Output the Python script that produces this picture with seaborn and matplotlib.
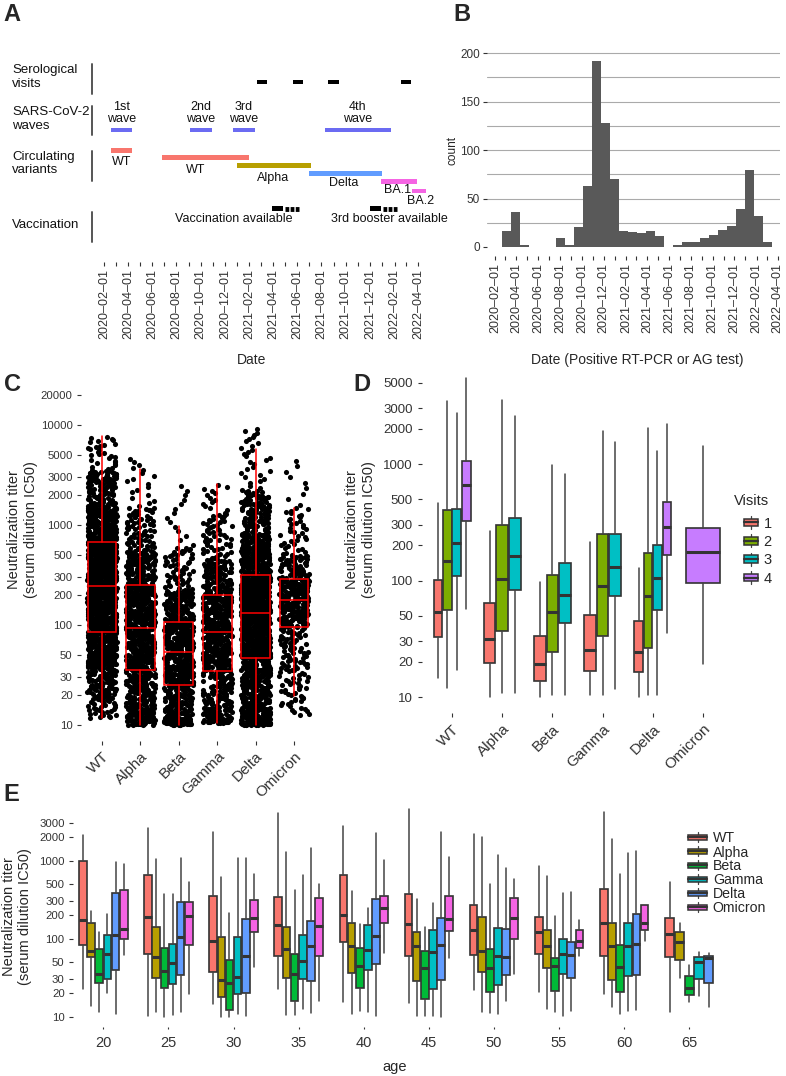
import numpy as np
import pandas as pd
import matplotlib
matplotlib.use("Agg")
import matplotlib.pyplot as plt
import matplotlib.dates as mdates
import seaborn as sns
from matplotlib.patches import Rectangle, Patch
from matplotlib.lines import Line2D
from matplotlib.legend_handler import HandlerBase
from matplotlib.ticker import NullLocator, FixedLocator

# ---------------- DATA ----------------
# Panel A: timeline
visit_starts = ["2021-02-20", "2021-05-21", "2021-08-17", "2022-02-17"]
visit_ends = ["2021-03-17", "2021-06-15", "2021-09-14", "2022-03-14"]

wave_labels = ["1st\nwave", "2nd\nwave", "3rd\nwave", "4th\nwave"]
wave_starts = ["2020-02-18", "2020-09-04", "2020-12-21", "2021-08-10"]
wave_ends = ["2020-04-11", "2020-10-29", "2021-02-14", "2022-01-23"]

period_names = ["WT", "WT", "Alpha", "Delta", "BA.1", "BA.2"]
period_starts = ["2020-02-18", "2020-06-26", "2020-12-31", "2021-06-30", "2021-12-29", "2022-03-17"]
period_ends = ["2020-04-11", "2021-01-30", "2021-07-05", "2021-12-31", "2022-03-29", "2022-04-21"]
period_label_dates = ["2020-03-16", "2020-09-19", "2021-04-02", "2021-09-25", "2022-02-09", "2022-04-07"]
period_colors = ["#F8766D", "#F8766D", "#B79F00", "#619CFF", "#F564E3", "#F564E3"]

vax_labels = ["Vaccination available", "3rd booster available"]
vax_solid_starts = ["2021-03-29", "2021-12-01"]
vax_solid_ends = ["2021-04-26", "2021-12-29"]
vax_dash_ends = ["2021-06-05", "2022-02-07"]
vax_label_dates = ["2020-12-24", "2022-01-18"]

# Panel B: histogram of positive tests (30 bins)
hist_start = "2020-02-20"
hist_binwidth_days = 25.15
case_counts = [16, 36, 2, 0, 0, 0, 9, 2, 21, 63, 192, 128, 70, 17, 15, 14, 17, 11,
               0, 2, 5, 5, 9, 12, 18, 22, 39, 79, 32, 5]

# Panel C: titers per variant (box stats: low, q1, median, q3, high)
variants = ["WT", "Alpha", "Beta", "Gamma", "Delta", "Omicron"]
c_box = [(11.7, 85.7, 245, 681, 7760),
         (10, 35.5, 94, 249, 3600),
         (10, 25, 54, 108, 977),
         (10.5, 34.7, 84.5, 200, 2590),
         (10, 46.4, 133, 316, 5750),
         (19.5, 96, 178, 286, 1470)]
# quantile anchors of the point clouds (probabilities below) and point counts
c_cloud_probs = [0, 0.02, 0.10, 0.25, 0.50, 0.75, 0.90, 0.98, 1.0]
c_cloud_wt = [11.7, 18, 40, 85.7, 245, 681, 1500, 3500, 7760]
c_cloud_alpha = [10, 10.5, 15, 35.5, 94, 249, 550, 1500, 4680]
c_cloud_beta = [10, 10.3, 12.5, 25, 54, 108, 220, 600, 2570]
c_cloud_gamma = [10.5, 11, 15, 34.7, 84.5, 200, 450, 1300, 2590]
c_cloud_delta = [10, 10.5, 16, 46.4, 133, 316, 800, 2200, 9400]
c_cloud_omicron = [12.5, 16, 35, 96, 178, 286, 500, 1500, 4700]
c_counts = [1500, 900, 700, 700, 1500, 450]

# Panel D: per visit (low, q1, median, q3, high) for WT..Omicron
visits = ["1", "2", "3", "4"]
d_visit1 = [(14.7, 33, 54, 101, 461), (10, 19.7, 31.6, 64.7, 267), (10, 13.8, 19.1, 33.6, 97),
            (10.4, 16.7, 25.4, 50.6, 214), (10, 16.3, 24.3, 45, 129), None]
d_visit2 = [(11.9, 56, 148, 403, 3450), (10.8, 37.2, 103.5, 297, 3565), (10.4, 24.4, 53.7, 112, 972),
            (10.4, 33.3, 90.6, 250, 1905), (10.4, 26.5, 73.9, 174, 2037), None]
d_visit3 = [(17.1, 110, 209, 413, 2770), (10.8, 83.2, 161, 346, 2563), (10.4, 43.2, 74.8, 141, 826),
            (11.7, 73, 130, 252, 1545), (10.4, 56, 106, 200, 1301), None]
d_visit4 = [(57, 326, 664, 1052, 5480), None, None, None,
            (35.7, 166, 291, 472, 2218), (19.2, 95, 176, 282, 1416)]

# Panel E: per age group (low, q1, median, q3, high)
ages = [20, 25, 30, 35, 40, 45, 50, 55, 60, 65]
e_wt = [(22.6, 84, 174, 982, 2135), (10.2, 64, 191, 662, 2600), (14.6, 37.4, 93.5, 352, 2353),
        (22.4, 59.4, 149, 345, 4120), (15.6, 90.8, 201, 662, 2786), (14.9, 60, 156, 378, 4580),
        (22, 61.8, 129, 270, 2178), (20.9, 64.3, 121, 190, 855), (19.4, 60.5, 157, 430, 4170),
        (11.6, 58.7, 114, 183, 529)]
e_alpha = [(13.8, 58.2, 69.5, 159, 226), (11.6, 31.3, 58.7, 141, 1042), (10, 18, 29.6, 105, 618),
           (10.5, 31.3, 74.5, 141, 1303), (10.9, 36, 80, 160, 409), (10.3, 28.7, 81.3, 123, 323),
           (11.6, 37, 69.5, 190, 2014), (12.4, 42.1, 80.6, 129, 637), (13.4, 29.8, 80.6, 159, 1897),
           (31.6, 53.3, 90, 121, 157)]
e_beta = [(11.6, 27.3, 35.6, 74.5, 121), (10, 23.1, 38.5, 75.3, 371), (10, 12.2, 27, 52.8, 213),
          (10.6, 15.7, 34.9, 64.3, 421), (11.8, 23.5, 44.7, 76.7, 154), (10.3, 16.7, 42.5, 68.9, 143),
          (11.2, 20.9, 41.7, 73, 507), (11.4, 21.5, 44.3, 57, 197), (10.7, 20.6, 43.8, 83.8, 675),
          (15.3, 19, 23.5, 33, 46)]
e_gamma = [(20, 30.4, 64.3, 111, 207), (10.5, 26.2, 48.8, 86.3, 378), (10.8, 19.4, 32.3, 104, 1092),
           (12.4, 30.7, 52.2, 111, 650), (11.4, 39.7, 71.6, 151, 250), (10.3, 22.6, 68.1, 129, 284),
           (10.7, 25.5, 60.5, 137, 1183), (10.3, 35.6, 63.7, 99, 389), (11.8, 33.3, 80, 160, 1245),
           (18.4, 30.1, 50.7, 58.7, 67)]
e_delta = [(10.9, 40, 112, 389, 953), (11.4, 34.3, 106, 298, 1074), (10.2, 20.3, 60.5, 180, 1092),
           (11, 28.7, 80, 167, 1455), (10.2, 47.8, 107, 326, 2244), (10, 29.6, 83, 183, 2312),
           (15.9, 34.3, 58.2, 134, 798), (11.9, 31, 61.8, 90.8, 397), (12.2, 34, 84.7, 209, 1320),
           (13.2, 26.8, 56.6, 60.5, 65)]
e_omicron = [(61.2, 99, 132, 421, 907), (19.4, 83, 197, 293, 529), (43.4, 122, 184, 316, 681),
             (16, 60, 147, 336, 498), (66.2, 160, 245, 350, 1021), (56.1, 124, 180, 356, 1106),
             (34.9, 99, 186, 330, 582), (60.5, 75.3, 94.3, 129, 174), (94.3, 129, 160, 270, 272),
             None]

visit_colors = ["#F8766D", "#7CAE00", "#00BFC4", "#C77CFF"]
variant_colors = ["#F8766D", "#B79F00", "#00BA38", "#00BFC4", "#619CFF", "#F564E3"]

# ---------------- STYLE / LAYOUT ----------------
W, H = 786, 1076
sns.set_theme(style="white")
plt.rcParams['font.family'] = ['Liberation Sans', 'DejaVu Sans']
plt.rcParams['lines.scale_dashes'] = False
plt.rcParams['axes.unicode_minus'] = False
TXT = '#333333'
EDGE = '#333333'

fig = plt.figure(figsize=(W / 100, H / 100), dpi=100)


def px_axes(l, t, r, b):
    return fig.add_axes([l / W, 1 - b / H, (r - l) / W, (b - t) / H])


def ftext(x, y, s, **kw):
    return fig.text(x / W, 1 - y / H, s, **kw)


def vline_fig(x, y0, y1, **kw):
    fig.add_artist(Line2D([x / W, x / W], [1 - y0 / H, 1 - y1 / H], transform=fig.transFigure, **kw))


def dn(s):
    return float(mdates.date2num(pd.Timestamp(s)))


def clean(ax):
    for s in ax.spines.values():
        s.set_visible(False)
    ax.set_xlabel("")
    ax.set_ylabel("")


def stat(t):
    lo, q1, med, q3, hi = t
    return dict(whislo=lo, q1=q1, med=med, q3=q3, whishi=hi, fliers=[])


months = pd.date_range("2020-02-01", "2022-04-01", freq="MS")
month_nums = mdates.date2num(months)
month_labels = [m.strftime("%Y\u2013%m\u2013%d") if m.month % 2 == 0 else "" for m in months]
d0, d1 = dn("2020-02-01"), dn("2022-04-01")


def date_axis(ax):
    ax.set_xticks(month_nums)
    ax.set_xticklabels(month_labels, rotation=90, ha='center', va='top', fontsize=9, color=TXT)
    ax.tick_params(axis='x', bottom=True, length=3, width=0.8, color=TXT, pad=2)


# ---------------- PANEL A ----------------
ax_a = px_axes(95, 55, 430, 262)
ppd_a = (418 - 104) / (d1 - d0)
ax_a.set_xlim(d0 - (104 - 95) / ppd_a, d1 + (430 - 418) / ppd_a)
ax_a.set_ylim(262, 55)
clean(ax_a)
ax_a.set_yticks([])
date_axis(ax_a)

row_visit, row_wave, row_vax = 82, 130, 208.5
period_rows = [150.3, 157.8, 165.7, 173.5, 181.3, 191]
period_label_rows = [162, 170, 177.5, 183.5, 190, 201.5]
bar_h = 4.8

for s, e in zip(visit_starts, visit_ends):
    ax_a.barh(row_visit, dn(e) - dn(s), left=dn(s), height=bar_h, color='black', linewidth=0)
for lab, s, e in zip(wave_labels, wave_starts, wave_ends):
    ax_a.barh(row_wave, dn(e) - dn(s), left=dn(s), height=bar_h, color='#6B6BF2', linewidth=0)
    ax_a.text((dn(s) + dn(e)) / 2, 113, lab, ha='center', va='center', fontsize=9,
              linespacing=1.1, color='#111111')
for name, s, e, ld, c, yr, yl in zip(period_names, period_starts, period_ends, period_label_dates,
                                     period_colors, period_rows, period_label_rows):
    ax_a.barh(yr, dn(e) - dn(s), left=dn(s), height=bar_h, color=c, linewidth=0)
    ax_a.text(dn(ld), yl, name, ha='center', va='center', fontsize=9, color='#111111')
for lab, s, e, de, ld in zip(vax_labels, vax_solid_starts, vax_solid_ends, vax_dash_ends, vax_label_dates):
    ax_a.barh(row_vax, dn(e) - dn(s), left=dn(s), height=bar_h, color='black', linewidth=0)
    ax_a.plot([dn(e) + 5, dn(de)], [row_vax, row_vax], color='black', lw=3.5,
              dashes=(2.7, 1.0), solid_capstyle='butt', dash_capstyle='butt')
    ax_a.text(dn(ld), 218.5, lab, ha='center', va='center', fontsize=9, color='#111111')

for lab, yc, (y0, y1) in zip(["Serological\nvisits", "SARS-CoV-2\nwaves", "Circulating\nvariants", "Vaccination"],
                             [77, 119, 163.5, 225],
                             [(64, 94), (106, 135), (151, 181), (212, 242)]):
    ftext(12, yc, lab, ha='left', va='center', fontsize=9.5, linespacing=1.12, color='#111111')
    vline_fig(92, y0, y1, color='#555555', lw=1.4)

ftext(252, 360, "Date", ha='center', va='center', fontsize=10)

# ---------------- PANEL B ----------------
ax_b = px_axes(487, 51.5, 780, 256.3)
ppd_b = (777.7 - 495) / (d1 - d0)
edges = [dn(hist_start) + hist_binwidth_days * i for i in range(len(case_counts) + 1)]
centers = [(edges[i] + edges[i + 1]) / 2 for i in range(len(case_counts))]
df_b = pd.DataFrame({"date": centers, "count": case_counts})
sns.histplot(data=df_b, x="date", weights="count", bins=edges, color='#595959', alpha=1,
             linewidth=0, ax=ax_b)
ax_b.set_xlim(d0 - (495 - 487) / ppd_b, d1 + (780 - 777.7) / ppd_b)
ax_b.set_ylim(-9.6, 201.6)
clean(ax_b)
date_axis(ax_b)
ax_b.set_yticks([0, 50, 100, 150, 200])
ax_b.set_yticklabels(["0", "50", "100", "150", "200"], fontsize=8.5, color=TXT)
ax_b.yaxis.set_minor_locator(FixedLocator([25, 75, 125, 175]))
ax_b.tick_params(axis='y', which='major', left=True, length=3, width=0.8, color=TXT, pad=2)
ax_b.tick_params(axis='y', which='minor', left=False)
ax_b.set_axisbelow(True)
ax_b.grid(True, which='both', axis='y', color='#AAAAAA', lw=0.8)
ax_b.grid(False, axis='x')
ax_b.get_ygridlines()[0].set_visible(False)
ftext(452, 150, "count", rotation=90, ha='center', va='center', fontsize=8.5)
ftext(637, 360, "Date (Positive RT-PCR or AG test)", ha='center', va='center', fontsize=10)

# ---------------- PANEL C ----------------
ax_c = px_axes(81, 378, 315, 741)
clouds = [c_cloud_wt, c_cloud_alpha, c_cloud_beta, c_cloud_gamma, c_cloud_delta, c_cloud_omicron]
vals, labs = [], []
for v, cl, n in zip(variants, clouds, c_counts):
    p = (np.arange(n) + 0.5) / n
    vals.append(10 ** np.interp(p, c_cloud_probs, np.log10(cl)))
    labs += [v] * n
df_c = pd.DataFrame({"variant": labs, "titer": np.concatenate(vals)})
np.random.seed(7)
sns.stripplot(data=df_c, x="variant", y="titer", order=variants, jitter=0.38, size=3.7,
              color='black', linewidth=0, ax=ax_c, zorder=1)
ax_c.set_yscale('log')
ax_c.bxp([stat(t) for t in c_box], positions=range(len(variants)), widths=0.75,
         showfliers=False, showcaps=False, patch_artist=True, manage_ticks=False, zorder=3,
         boxprops=dict(facecolor='none', edgecolor='#FF0000', lw=1.1),
         medianprops=dict(color='#FF0000', lw=1.1),
         whiskerprops=dict(color='#FF0000', lw=1.1))
ax_c.set_xlim(-0.547, 5.547)
ax_c.set_ylim(10 ** 0.84, 10 ** 4.47)
clean(ax_c)
c_ticks = [10, 20, 30, 50, 100, 200, 300, 500, 1000, 2000, 3000, 5000, 10000, 20000]
ax_c.yaxis.set_major_locator(FixedLocator(c_ticks))
ax_c.yaxis.set_minor_locator(NullLocator())
ax_c.set_yticklabels([str(t) for t in c_ticks], fontsize=8.2, color=TXT)
ax_c.set_xticks(range(len(variants)))
ax_c.set_xticklabels(variants, rotation=45, ha='right', va='top', rotation_mode='anchor',
                     fontsize=11, color=TXT)
ax_c.tick_params(axis='both', bottom=True, left=True, length=3, width=0.8, color=TXT, pad=3)
ftext(22.5, 530, "Neutralization titer\n(serum dilution IC50)", rotation=90, ha='center',
      va='center', fontsize=10.5, linespacing=1.25, multialignment='center')

# ---------------- PANEL D ----------------
ax_d = px_axes(422, 362, 733, 713)
ax_d.set_yscale('log')
d_all = [d_visit1, d_visit2, d_visit3, d_visit4]
for i, v in enumerate(variants):
    present = [j for j in range(4) if d_all[j][i] is not None]
    k = len(present)
    slot = 0.75 / k
    for m, j in enumerate(present):
        pos = i + (m - (k - 1) / 2) * slot
        ax_d.bxp([stat(d_all[j][i])], positions=[pos], widths=slot * 0.92,
                 showfliers=False, showcaps=False, patch_artist=True, manage_ticks=False, zorder=3,
                 boxprops=dict(facecolor=visit_colors[j], edgecolor=EDGE, lw=1.2),
                 medianprops=dict(color=EDGE, lw=2.2, solid_capstyle='butt'),
                 whiskerprops=dict(color='#444444', lw=1.1))
ax_d.set_xlim(-0.6, 5.6)
ax_d.set_ylim(10 ** 0.863, 10 ** 3.876)
clean(ax_d)
d_ticks = [10, 20, 30, 50, 100, 200, 300, 500, 1000, 2000, 3000, 5000]
ax_d.yaxis.set_major_locator(FixedLocator(d_ticks))
ax_d.yaxis.set_minor_locator(NullLocator())
ax_d.set_yticklabels([str(t) for t in d_ticks], fontsize=9.5, color=TXT)
ax_d.set_xticks(range(len(variants)))
ax_d.set_xticklabels(variants, rotation=45, ha='right', va='top', rotation_mode='anchor',
                     fontsize=11, color=TXT)
ax_d.tick_params(axis='both', bottom=True, left=True, length=3, width=0.8, color=TXT, pad=3.5)
ftext(360.5, 530, "Neutralization titer\n(serum dilution IC50)", rotation=90, ha='center',
      va='center', fontsize=10.5, linespacing=1.25, multialignment='center')


class BoxKey(HandlerBase):
    def create_artists(self, legend, orig_handle, xdescent, ydescent, width, height, fontsize, trans):
        x0, y0 = -xdescent, -ydescent
        fc = orig_handle.get_facecolor()
        cx = x0 + width / 2
        w1 = Line2D([cx, cx], [y0 - 0.12 * height, y0 + 0.15 * height], color='#444444', lw=0.9, transform=trans)
        w2 = Line2D([cx, cx], [y0 + 0.85 * height, y0 + 1.12 * height], color='#444444', lw=0.9, transform=trans)
        rect = Rectangle((x0, y0 + 0.15 * height), width, 0.7 * height, facecolor=fc,
                         edgecolor=EDGE, lw=1.1, transform=trans)
        med = Line2D([x0, x0 + width], [y0 + 0.5 * height] * 2, color=EDGE, lw=1.6, transform=trans)
        return [w1, w2, rect, med]


leg_d = ax_d.legend([Patch(facecolor=c) for c in visit_colors], visits, handler_map={Patch: BoxKey()},
                    loc='upper left', bbox_to_anchor=(744 / W, 1 - 516.5 / H), bbox_transform=fig.transFigure,
                    frameon=False, fontsize=10.5, borderpad=0, borderaxespad=0, handlelength=0.98,
                    handleheight=0.75, labelspacing=0.3, handletextpad=0.35)
ftext(734, 501, "Visits", ha='left', va='center', fontsize=10.5)

# ---------------- PANEL E ----------------
ax_e = px_axes(73, 798.6, 745, 1027)
ax_e.set_yscale('log')
e_all = [e_wt, e_alpha, e_beta, e_gamma, e_delta, e_omicron]
for a_i, age in enumerate(ages):
    present = [j for j in range(6) if e_all[j][a_i] is not None]
    k = len(present)
    slot = 0.75 * 5 / k
    for m, j in enumerate(present):
        pos = age + (m - (k - 1) / 2) * slot
        ax_e.bxp([stat(e_all[j][a_i])], positions=[pos], widths=slot * 0.94,
                 showfliers=False, showcaps=False, patch_artist=True, manage_ticks=False, zorder=3,
                 boxprops=dict(facecolor=variant_colors[j], edgecolor=EDGE, lw=1.2),
                 medianprops=dict(color=EDGE, lw=2.2, solid_capstyle='butt'),
                 whiskerprops=dict(color='#444444', lw=1.1))
ax_e.set_xlim(17.67, 69.28)
ax_e.set_ylim(10 ** 0.867, 10 ** 3.796)
clean(ax_e)
e_ticks = [10, 20, 30, 50, 100, 200, 300, 500, 1000, 2000, 3000]
ax_e.yaxis.set_major_locator(FixedLocator(e_ticks))
ax_e.yaxis.set_minor_locator(NullLocator())
ax_e.set_yticklabels([str(t) for t in e_ticks], fontsize=8.2, color=TXT)
ax_e.tick_params(axis='y', left=True, length=3, width=0.8, color=TXT, pad=3)
ax_e.set_xticks(ages)
ax_e.set_xticklabels([str(a) for a in ages], fontsize=10.5, color=TXT)
ax_e.tick_params(axis='x', bottom=True, length=1.2, width=0.8, color=TXT, pad=5)
ftext(17, 917, "Neutralization titer\n(serum dilution IC50)", rotation=90, ha='center',
      va='center', fontsize=10.5, linespacing=1.25, multialignment='center')
ftext(395, 1067, "age", ha='center', va='center', fontsize=10.5)

leg_e = ax_e.legend([Patch(facecolor=c) for c in variant_colors], variants, handler_map={Patch: BoxKey()},
                    loc='upper left', bbox_to_anchor=(688 / W, 1 - 831.5 / H), bbox_transform=fig.transFigure,
                    frameon=False, fontsize=10.2, borderpad=0, borderaxespad=0, handlelength=1.35,
                    handleheight=0.5, labelspacing=0.0, handletextpad=0.4)

# ---------------- PANEL LETTERS ----------------
for lab, x, y in [("A", 3, 3), ("B", 453, 3), ("C", 4, 373), ("D", 353, 373), ("E", 3, 783)]:
    ftext(x, y, lab, ha='left', va='top', fontsize=17, fontweight='bold')

fig.savefig("out.png", dpi=100)
